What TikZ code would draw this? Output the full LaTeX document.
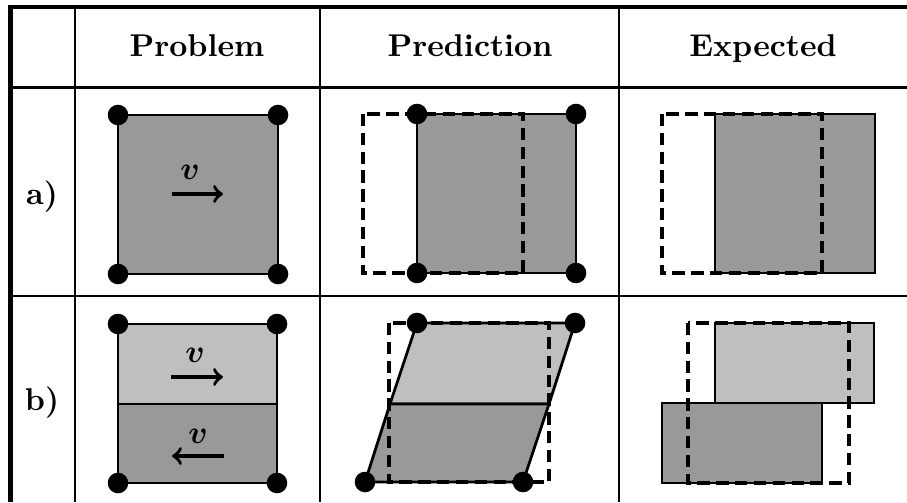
\documentclass[tikz,border=0pt]{standalone}
\usepackage{bm}
\tikzset{
  rule/.style={line width=0.9pt},
  outer/.style={line width=1.4pt},
  body/.style={draw,line width=0.95pt,fill=black!40},
  upper/.style={draw,line width=0.95pt,fill=black!25},
  ghost/.style={line width=1.25pt,dash pattern=on 4.2pt off 2.2pt},
  knot/.style={circle,fill,inner sep=0pt,minimum size=7pt},
  vel/.style={->,line width=1.2pt},
  head/.style={font=\fontsize{10.7}{13}\selectfont\bfseries,anchor=base},
}
\begin{document}
\begin{tikzpicture}[x=0.34pt,y=-0.34pt,font=\fontsize{11}{13}\selectfont]
  \useasboundingbox (0,0) rectangle (907,502);
  % table lines
  \draw[rule] (75,7) -- (75,502);
  \draw[rule] (320,7) -- (320,502);
  \draw[rule] (619,7) -- (619,502);
  \draw[rule] (10,87.5) -- (907,87.5);
  \draw[rule] (10,296) -- (907,296);
  \draw[outer] (907,7) -- (10.5,7) -- (10.5,502);
  % headers
  \node[head] (hprob) at (197,57) {Problem};
  \node[head] (hpred) at (470,57) {Prediction};
  \node[head] (hexp) at (763,57) {Expected};
  \node[head] (ra) at (42,204) {a)};
  \node[head] (rb) at (42,410) {b)};
  % a) problem
  \draw[body] (118,115) rectangle (278,274);
  \coordinate (va0) at (172,194);
  \coordinate (va1) at (223,194);
  \draw[vel] (va0) -- (va1);
  \node (vla) at (190,172) {$\bm{v}$};
  % a) prediction
  \draw[body] (417,114) rectangle (576,273);
  \draw[ghost] (363,114) rectangle (523,273);
  % a) expected
  \draw[body] (715,114) rectangle (875,273);
  \draw[ghost] (662,114) rectangle (822,273);
  % b) problem
  \draw[upper] (118,324) rectangle (277,404);
  \draw[body] (118,404) rectangle (277,483);
  \coordinate (vb0) at (171,377);
  \coordinate (vb1) at (223,377);
  \draw[vel] (vb0) -- (vb1);
  \node (vlb) at (195,355) {$\bm{v}$};
  \coordinate (vc0) at (224,456);
  \coordinate (vc1) at (172,456);
  \draw[vel] (vc0) -- (vc1);
  \node (vlc) at (198,436) {$\bm{v}$};
  % b) prediction
  \draw[upper] (417,323) -- (575,323) -- (549,404) -- (390,404) -- cycle;
  \draw[body] (390,404) -- (549,404) -- (523,482) -- (365,482) -- cycle;
  \draw[ghost] (389,323) rectangle (549,482);
  % b) expected
  \draw[upper] (715,323) rectangle (874,403);
  \draw[body] (662,403) rectangle (822,483);
  \draw[ghost] (688,323) rectangle (849,483);
  % nodes of the mesh
  \foreach \px/\py [count=\i] in {118/115,278/115,118/274,278/274,
      417/114,576/114,417/273,576/273,
      118/324,277/324,118/483,277/483,
      417/323,575/323,365/482,523/482}
    \node[knot] (k\i) at (\px,\py) {};
\end{tikzpicture}
\end{document}
